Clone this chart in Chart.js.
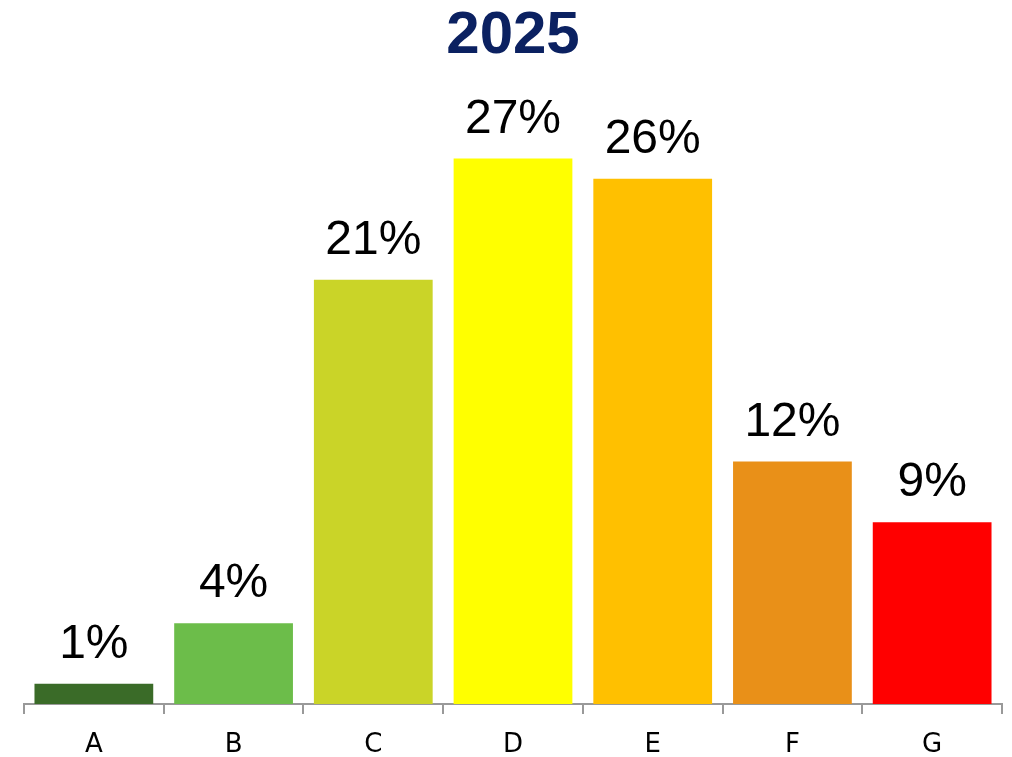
<!DOCTYPE html>
<html>
<head>
<meta charset="utf-8">
<script src="https://cdn.jsdelivr.net/npm/chart.js@4"></script>
<style>
    html, body { margin: 0; padding: 0; background: #fff; }
    #wrap { width: 1012px; height: 757px; }
</style>
</head>
<body>
<div id="wrap"><canvas id="chart1"></canvas></div>
<script>
const categories = ['A', 'B', 'C', 'D', 'E', 'F', 'G']
const shares = [1, 4, 21, 27, 26, 12, 9]
const barColors = ['#3a6b28', '#6cbd4a', '#cad428', '#ffff00', '#ffc000', '#e99018', '#ff0000']

// writes "xx%" above each bar
const valueLabels = {
    id: 'valueLabels',
    afterDatasetsDraw(chart) {
        const ctx = chart.ctx
        const meta = chart.getDatasetMeta(0)
        ctx.save()
        ctx.font = '48px "Liberation Sans", Arial, sans-serif'
        ctx.fillStyle = '#000'
        ctx.textAlign = 'center'
        ctx.textBaseline = 'alphabetic'
        meta.data.forEach((bar, i) => {
            ctx.fillText(shares[i] + '%', bar.x, bar.y - 26)
        })
        ctx.restore()
    }
}

new Chart(document.getElementById('chart1'), {
    type: 'bar',
    data: {
        labels: categories,
        datasets: [{
            data: shares,
            backgroundColor: barColors,
            borderWidth: 0,
            barPercentage: 0.85,
            categoryPercentage: 1
        }]
    },
    options: {
        responsive: true,
        maintainAspectRatio: false,
        animation: false,
        layout: { padding: { left: 24, right: 10, top: 0, bottom: 0 } },
        plugins: {
            legend: { display: false },
            tooltip: { enabled: false },
            title: {
                display: true,
                text: '2025',
                color: '#0b2161',
                font: { family: '"Liberation Sans", Arial, sans-serif', size: 60, weight: 'bold' },
                padding: { top: 0, bottom: 26 }
            }
        },
        scales: {
            x: {
                grid: {
                    drawOnChartArea: false,
                    drawTicks: true,
                    tickLength: 10,
                    color: '#999',
                    lineWidth: 2
                },
                border: { display: true, color: '#999', width: 2 },
                ticks: {
                    color: '#000',
                    padding: 16,
                    font: { family: '"DejaVu Sans", sans-serif', size: 26 }
                },
                afterFit(scale) { scale.height = 53 }
            },
            y: {
                display: false,
                min: 0,
                max: 30
            }
        }
    },
    plugins: [valueLabels]
})
</script>
</body>
</html>
